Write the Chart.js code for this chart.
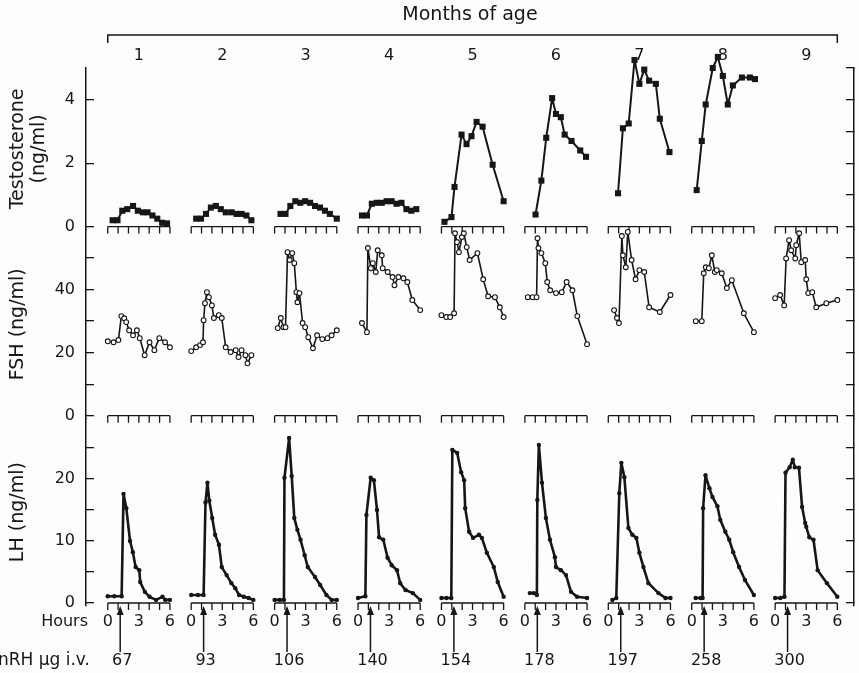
<!DOCTYPE html>
<html>
<head>
<meta charset="utf-8">
<script src="https://cdn.jsdelivr.net/npm/chart.js@4.4.0/dist/chart.umd.min.js"></script>
<style>
  html, body { margin: 0; padding: 0; background: #fdfdfd; }
  #wrap { width: 859px; height: 673px; }
</style>
</head>
<body>
<div id="wrap"><canvas id="myChart"></canvas></div>
<script>
'use strict';
// one block per month of age
let months = ['1', '2', '3', '4', '5', '6', '7', '8', '9'];
let doses = ['67', '93', '106', '140', '154', '178', '197', '258', '300'];
let hourTicks = [0, 1, 2, 3, 4, 5, 6];
let hourLabels = [0, 3, 6];

let testoTicks = [0, 1, 2, 3, 4, 5];
let testoLabels = [0, 2, 4];
let fshTicks = [0, 10, 20, 30, 40, 50];
let fshLabels = [0, 20, 40];
let lhTicks = [0, 5, 10, 15, 20, 25];
let lhLabels = [0, 10, 20];

// testosterone (ng/ml), hours after start of sampling
let testoHours = [
  [0.47, 0.94, 1.4, 1.88, 2.44, 2.9, 3.38, 3.84, 4.31, 4.78, 5.25, 5.72],
  [0.48, 0.95, 1.43, 1.9, 2.38, 2.86, 3.33, 3.9, 4.38, 4.86, 5.33, 5.81],
  [0.57, 1.05, 1.52, 2.0, 2.48, 2.95, 3.43, 3.9, 4.38, 4.86, 5.33, 6.0],
  [0.38, 0.86, 1.33, 1.81, 2.29, 2.76, 3.24, 3.71, 4.19, 4.67, 5.14, 5.62],
  [0.29, 0.97, 1.26, 1.94, 2.42, 2.9, 3.39, 3.97, 4.94, 6.0],
  [1.03, 1.59, 2.06, 2.63, 3.0, 3.47, 3.84, 4.5, 5.34, 5.9],
  [0.94, 1.41, 1.97, 2.53, 3.0, 3.47, 3.94, 4.59, 4.97, 5.9],
  [0.48, 0.97, 1.35, 2.03, 2.52, 3.0, 3.48, 3.97, 4.84, 5.61, 6.1],
  []
];
let testoValues = [
  [0.2, 0.2, 0.5, 0.55, 0.65, 0.5, 0.45, 0.45, 0.35, 0.25, 0.12, 0.1],
  [0.25, 0.25, 0.4, 0.6, 0.65, 0.55, 0.45, 0.45, 0.4, 0.4, 0.35, 0.2],
  [0.4, 0.4, 0.65, 0.8, 0.75, 0.8, 0.75, 0.65, 0.6, 0.5, 0.4, 0.25],
  [0.35, 0.35, 0.72, 0.75, 0.75, 0.8, 0.8, 0.72, 0.75, 0.55, 0.5, 0.55],
  [0.15, 0.3, 1.25, 2.9, 2.6, 2.85, 3.3, 3.15, 1.95, 0.8],
  [0.38, 1.45, 2.8, 4.05, 3.55, 3.45, 2.9, 2.7, 2.4, 2.2],
  [1.05, 3.1, 3.25, 5.25, 4.5, 4.95, 4.6, 4.5, 3.4, 2.35],
  [1.15, 2.7, 3.85, 5.0, 5.35, 4.75, 3.85, 4.45, 4.7, 4.7, 4.65],
  []
];

// FSH (ng/ml)
let fshHours = [
  [0, 0.56, 1.03, 1.31, 1.59, 1.78, 2.06, 2.44, 2.81, 3.09, 3.56, 4.03, 4.5, 4.97, 5.53, 6.0],
  [0, 0.48, 0.86, 1.14, 1.2, 1.33, 1.52, 1.71, 2.0, 2.19, 2.67, 2.95, 3.33, 3.81, 4.29, 4.57, 4.86, 5.24, 5.43, 5.81],
  [0.3, 0.6, 0.85, 1.05, 1.25, 1.45, 1.7, 1.9, 2.1, 2.2, 2.4, 2.7, 2.95, 3.25, 3.7, 4.1, 4.6, 5.1, 5.5, 6.0],
  [0.38, 0.86, 0.95, 1.24, 1.43, 1.71, 1.9, 2.29, 2.38, 2.86, 3.33, 3.52, 3.9, 4.38, 4.76, 5.24, 6.0],
  [0, 0.47, 0.84, 1.22, 1.31, 1.5, 1.69, 1.97, 2.16, 2.44, 2.72, 3.47, 4.03, 4.5, 5.16, 5.63, 6.0],
  [0.28, 0.75, 1.13, 1.22, 1.31, 1.59, 1.97, 2.16, 2.44, 3.0, 3.56, 4.03, 4.59, 5.06, 6.0],
  [0.56, 0.84, 1.03, 1.31, 1.41, 1.69, 1.88, 2.25, 2.63, 3.0, 3.47, 3.94, 4.97, 6.0],
  [0.39, 0.97, 1.16, 1.36, 1.65, 1.94, 2.23, 2.42, 2.9, 3.39, 3.87, 5.03, 6.0],
  [0, 0.48, 0.87, 1.06, 1.35, 1.55, 1.94, 2.03, 2.32, 2.52, 2.9, 3.0, 3.19, 3.58, 3.97, 4.94, 6.0]
];
let fshValues = [
  [23.6, 23.3, 24, 31.6, 30.9, 29.7, 27.1, 25.5, 27.1, 24.6, 19.2, 23.3, 20.8, 24.6, 23.3, 21.7],
  [20.5, 21.7, 22.4, 23.3, 30.3, 35.7, 39.2, 37.6, 35, 31, 31.9, 31, 21.7, 20.2, 20.8, 18.6, 20.8, 19.2, 16.6, 19.2],
  [27.8, 31, 28.1, 28.1, 51.9, 49.4, 51.6, 48.4, 39.2, 36, 38.9, 29.4, 28.1, 24.9, 21.4, 25.5, 24.3, 24.6, 25.5, 27.1],
  [29.4, 26.5, 53.2, 46.8, 48.4, 45.6, 52.5, 50.9, 46.8, 45.6, 44, 41.4, 44, 43.6, 42.4, 36.7, 33.5],
  [31.9, 31.3, 31.3, 32.5, 57.9, 55.1, 51.9, 56.7, 57.9, 53.5, 49.4, 51.6, 43.3, 37.9, 37.6, 34.4, 31.3],
  [37.6, 37.6, 37.6, 56.3, 53.2, 51.6, 48.4, 42.4, 39.8, 38.9, 39.2, 42.4, 39.8, 31.6, 22.7],
  [33.5, 31, 29.4, 57, 50.9, 47.1, 58.3, 49.4, 43.3, 46.2, 45.6, 34.4, 32.9, 38.3],
  [30, 30, 45.2, 47.1, 46.8, 50.9, 45.6, 46.2, 45.2, 40.5, 43, 32.5, 26.5],
  [37.3, 38.3, 35, 49.9, 55.7, 52.5, 49.9, 54.1, 57.9, 48.7, 49.4, 43.3, 38.9, 39.2, 34.4, 35.7, 36.7]
];

// LH (ng/ml)
let lhHours = [
  [0, 0.63, 1.34, 1.52, 1.79, 2.15, 2.42, 2.69, 3.04, 3.13, 3.58, 4.03, 4.66, 5.28, 5.55, 6.0],
  [0, 0.65, 1.2, 1.38, 1.57, 1.75, 2.03, 2.31, 2.68, 2.95, 3.42, 3.88, 4.25, 4.62, 5.08, 5.54, 6.0],
  [0, 0.5, 0.9, 0.95, 1.4, 1.65, 1.9, 2.2, 2.5, 2.9, 3.2, 3.9, 4.4, 5.0, 5.5, 6.0],
  [0, 0.71, 0.81, 1.22, 1.53, 1.83, 2.03, 2.44, 2.85, 3.25, 3.76, 4.07, 4.58, 5.29, 6.0],
  [0, 0.48, 0.95, 1.05, 1.52, 1.9, 2.19, 2.29, 2.67, 3.05, 3.62, 3.9, 4.38, 5.05, 5.43, 6.0],
  [0.48, 0.87, 1.16, 1.2, 1.35, 1.65, 2.03, 2.42, 2.9, 3.0, 3.48, 3.97, 4.45, 5.03, 6.0],
  [0.39, 0.77, 1.06, 1.26, 1.55, 1.94, 2.32, 2.71, 3.0, 3.39, 3.87, 4.84, 5.52, 6.0],
  [0.38, 0.86, 1.05, 1.1, 1.33, 1.71, 2.0, 2.48, 2.76, 3.24, 3.62, 4.0, 4.57, 5.14, 6.0],
  [0, 0.5, 0.9, 1.0, 1.4, 1.7, 1.9, 2.3, 2.6, 2.9, 3.0, 3.3, 3.7, 4.1, 5.0, 6.0]
];
let lhValues = [
  [1.1, 1.1, 1.1, 17.6, 15.3, 10, 8.2, 5.8, 5.3, 3.4, 1.8, 1, 0.5, 1, 0.5, 0.5],
  [1.3, 1.3, 1.3, 16.2, 19.4, 16.5, 13.7, 11, 9.4, 5.8, 4.5, 3.2, 2.4, 1.3, 1, 0.8, 0.5],
  [0.5, 0.5, 0.5, 20.2, 26.6, 20.5, 13.7, 11.8, 10.2, 7.7, 5.8, 4.2, 2.9, 1.3, 0.5, 0.5],
  [0.8, 1.1, 14.2, 20.2, 19.8, 15, 10.6, 10.2, 7.3, 6.1, 5.3, 3.2, 2.1, 1.6, 0.5],
  [0.8, 0.8, 0.8, 24.7, 24.2, 21.1, 19.8, 15.3, 11.5, 10.5, 11, 10.5, 8.1, 5.8, 3.4, 1],
  [1.6, 1.6, 1.3, 16.6, 25.5, 19.4, 13.7, 10.2, 7.4, 5.8, 5.3, 4.5, 1.8, 1, 0.8],
  [0.5, 0.8, 17.7, 22.6, 20.3, 12.1, 11, 10.5, 8.1, 5.8, 3.2, 1.6, 0.8, 0.8],
  [0.8, 0.8, 0.8, 15.3, 20.6, 18.5, 17.1, 15.6, 13.4, 11.5, 10.2, 8.2, 5.8, 3.7, 1.3],
  [0.8, 0.8, 1, 21, 21.9, 23.1, 21.9, 21.8, 15.5, 12.9, 12.3, 10.6, 10.2, 5.3, 3.2, 1]
];

// layout: every month block is 6 h wide, blocks GAP hours apart on one x scale
const GAP = 8.05;
const XMIN = -2.1;
const XMAX = 72.0;
const INK = '#161616';
const FONT = 'DejaVu Sans';

// one line per hormone, broken between months with a null
function buildPoints(hours, values) {
  let pts = [];
  for (let g = 0; g < hours.length; g++) {
    for (let i = 0; i < hours[g].length; i++) {
      pts.push({ x: g * GAP + hours[g][i], y: values[g][i] });
    }
    pts.push({ x: g * GAP + 7, y: null });
  }
  return pts;
}

function yAxis(side, min, max, weight, ticks, labels, title) {
  let axis = {
    type: 'linear',
    position: side,
    stack: side,
    stackWeight: weight,
    min: min,
    max: max,
    afterBuildTicks: s => { s.ticks = ticks.map(v => ({ value: v })); },
    afterFit: s => { s.width = side === 'left' ? 86 : 2; },
    ticks: {
      display: side === 'left',
      padding: 19,
      color: INK,
      font: { family: FONT, size: 16 },
      callback: v => labels.includes(v) ? String(v) : ''
    },
    grid: { drawOnChartArea: false, tickLength: -8, tickColor: INK, lineWidth: 1.3 },
    border: { color: INK, width: 1.5 }
  };
  if (title) {
    axis.title = {
      display: true, text: title, color: INK,
      font: { family: FONT, size: 19, lineHeight: 1.1 },
      padding: { top: 8, bottom: 0 }
    };
  }
  return axis;
}

let savedTop = 0;
const panelMarks = {
  id: 'panelMarks',
  beforeDatasetsDraw(chart) {
    const ctx = chart.ctx;
    const xs = chart.scales.x;
    ctx.save();
    ctx.strokeStyle = INK;
    ctx.lineWidth = 1.3;
    ['yT', 'yF', 'yL'].forEach(id => {
      const y0 = chart.scales[id].getPixelForValue(0);
      for (let g = 0; g < months.length; g++) {
        ctx.beginPath();
        ctx.moveTo(xs.getPixelForValue(g * GAP), y0);
        ctx.lineTo(xs.getPixelForValue(g * GAP + 6), y0);
        hourTicks.forEach(h => {
          const px = xs.getPixelForValue(g * GAP + h);
          ctx.moveTo(px, y0);
          ctx.lineTo(px, y0 + 7);
        });
        ctx.stroke();
      }
    });
    ctx.restore();
    // let the testosterone peaks above 5 ng/ml keep their markers
    savedTop = chart.chartArea.top;
    chart.chartArea.top = savedTop - 20;
  },
  afterDatasetsDraw(chart) {
    chart.chartArea.top = savedTop;
  },
  afterDraw(chart) {
    const ctx = chart.ctx;
    const xs = chart.scales.x;
    ctx.save();
    ctx.strokeStyle = INK;
    ctx.fillStyle = INK;
    ctx.lineWidth = 1.5;

    // bracket under "Months of age"
    const bx0 = xs.getPixelForValue(0);
    const bx1 = xs.getPixelForValue((months.length - 1) * GAP + 6);
    ctx.beginPath();
    ctx.moveTo(bx0, 43); ctx.lineTo(bx0, 35); ctx.lineTo(bx1, 35); ctx.lineTo(bx1, 43);
    ctx.stroke();

    // GnRH arrows and doses
    ctx.font = '16px "' + FONT + '"';
    ctx.textBaseline = 'middle';
    ctx.textAlign = 'center';
    for (let g = 0; g < doses.length; g++) {
      const ax = xs.getPixelForValue(g * GAP + 1.2);
      ctx.beginPath();
      ctx.moveTo(ax, 652); ctx.lineTo(ax, 613);
      ctx.stroke();
      ctx.beginPath();
      ctx.moveTo(ax, 606); ctx.lineTo(ax - 3.5, 615); ctx.lineTo(ax + 3.5, 615);
      ctx.closePath();
      ctx.fill();
      ctx.fillText(doses[g], ax + 2, 661);
    }

    ctx.textAlign = 'right';
    ctx.fillText('Hours', 88, 622);
    ctx.font = '17px "' + FONT + '"';
    ctx.fillText('GnRH \u03bcg i.v.', 90, 661);
    ctx.restore();
  }
};

let ctx = document.getElementById('myChart').getContext('2d');
let myChart = new Chart(ctx, {
  type: 'line',
  data: {
    datasets: [{
      label: 'Testosterone',
      yAxisID: 'yT',
      data: buildPoints(testoHours, testoValues),
      borderColor: INK,
      borderWidth: 2,
      borderJoinStyle: 'round',
      pointStyle: 'rect',
      pointRadius: 4.3,
      pointBackgroundColor: INK,
      pointBorderColor: INK,
      pointBorderWidth: 0,
      clip: false
    }, {
      label: 'FSH',
      yAxisID: 'yF',
      data: buildPoints(fshHours, fshValues),
      borderColor: INK,
      borderWidth: 1.6,
      borderJoinStyle: 'round',
      pointStyle: 'circle',
      pointRadius: 2.4,
      pointBackgroundColor: '#ffffff',
      pointBorderColor: INK,
      pointBorderWidth: 1.1,
      clip: false
    }, {
      label: 'LH',
      yAxisID: 'yL',
      data: buildPoints(lhHours, lhValues),
      borderColor: INK,
      borderWidth: 2.6,
      borderJoinStyle: 'round',
      pointStyle: 'circle',
      pointRadius: 2.2,
      pointBackgroundColor: INK,
      pointBorderColor: INK,
      pointBorderWidth: 0,
      clip: false
    }]
  },
  options: {
    responsive: true,
    maintainAspectRatio: false,
    animation: false,
    spanGaps: false,
    layout: { padding: 0 },
    elements: { line: { tension: 0 } },
    plugins: { legend: { display: false }, tooltip: { enabled: false } },
    scales: {
      x: {
        type: 'linear',
        position: 'bottom',
        min: XMIN,
        max: XMAX,
        afterBuildTicks: s => {
          let t = [];
          for (let g = 0; g < months.length; g++) {
            hourLabels.forEach(h => t.push({ value: g * GAP + h }));
          }
          s.ticks = t;
        },
        afterFit: s => { s.height = 67.5; },
        ticks: {
          autoSkip: false,
          maxRotation: 0,
          padding: 7,
          color: INK,
          font: { family: FONT, size: 16 },
          callback: (v, i) => String(hourLabels[i % hourLabels.length])
        },
        grid: { display: false, drawTicks: false },
        border: { display: false }
      },
      x2: {
        type: 'linear',
        position: 'top',
        min: XMIN,
        max: XMAX,
        afterBuildTicks: s => { s.ticks = months.map((m, g) => ({ value: g * GAP + 3 })); },
        afterFit: s => { s.height = 68; },
        ticks: {
          autoSkip: false,
          maxRotation: 0,
          padding: 3,
          color: INK,
          font: { family: FONT, size: 16 },
          callback: (v, i) => months[i]
        },
        grid: { display: false, drawTicks: false },
        border: { display: false },
        title: {
          display: true, text: 'Months of age', color: INK,
          font: { family: FONT, size: 19 },
          padding: { top: 4, bottom: 0 }
        }
      },
      yL: yAxis('left', -0.4, 29.7, 186.6, lhTicks, lhLabels, 'LH (ng/ml)'),
      yF: yAxis('left', -1, 59, 189, fshTicks, fshLabels, 'FSH (ng/ml)'),
      yT: yAxis('left', -0.1, 5, 161.7, testoTicks, testoLabels, ['Testosterone', '(ng/ml)']),
      rT: yAxis('right', -0.1, 5, 161.7, testoTicks, testoLabels, null),
      rF: yAxis('right', -1, 59, 189, fshTicks, fshLabels, null),
      rL: yAxis('right', -0.4, 29.7, 186.6, lhTicks, lhLabels, null)
    }
  },
  plugins: [panelMarks]
});
</script>
</body>
</html>
